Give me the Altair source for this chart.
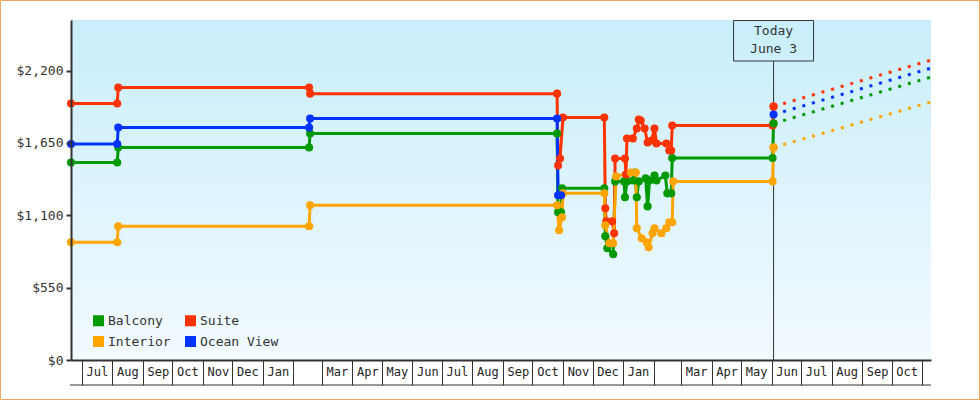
import json
import altair as alt
import pandas as pd

FONT = "DejaVu Sans Mono"

# legend order (column-major in a 2x2 grid): Balcony, Interior | Suite, Ocean View
series_names = ["Balcony", "Interior", "Suite", "Ocean View"]
series_colors = ["#009900", "#ffa500", "#ff3300", "#0033ff"]

balcony_dates = ["2015-06-20", "2015-08-06", "2015-08-07", "2016-02-17", "2016-02-18", "2016-10-26",
                 "2016-10-27", "2016-10-30", "2016-10-31", "2016-12-13", "2016-12-14", "2016-12-16",
                 "2016-12-22", "2016-12-24", "2017-01-02", "2017-01-03", "2017-01-05", "2017-01-11",
                 "2017-01-13", "2017-01-15", "2017-01-17", "2017-01-24", "2017-01-26", "2017-01-28",
                 "2017-02-02", "2017-02-04", "2017-02-13", "2017-02-15", "2017-02-19", "2017-02-20",
                 "2017-06-02", "2017-06-03"]
balcony_prices = [1502, 1502, 1616, 1616, 1722, 1722,
                  1123, 1123, 1305, 1305, 941, 850,
                  804, 1358, 1358, 1237, 1358, 1365,
                  1426, 1237, 1358, 1381, 1168, 1365,
                  1403, 1365, 1403, 1267, 1267, 1536,
                  1536, 1798]

suite_dates = ["2015-06-20", "2015-08-06", "2015-08-07", "2016-02-17", "2016-02-18", "2016-10-26",
               "2016-10-27", "2016-10-29", "2016-11-01", "2016-12-13", "2016-12-14", "2016-12-15",
               "2016-12-21", "2016-12-23", "2016-12-24", "2017-01-03", "2017-01-04", "2017-01-05",
               "2017-01-11", "2017-01-15", "2017-01-17", "2017-01-19", "2017-01-23", "2017-01-26",
               "2017-01-30", "2017-02-02", "2017-02-04", "2017-02-14", "2017-02-17", "2017-02-19",
               "2017-02-20", "2017-06-02", "2017-06-03"]
suite_prices = [1950, 1950, 2071, 2071, 2025, 2025,
                1479, 1532, 1843, 1843, 1153, 1054,
                1054, 963, 1532, 1532, 1411, 1684,
                1684, 1760, 1828, 1821, 1760, 1654,
                1669, 1760, 1646, 1646, 1593, 1593,
                1783, 1783, 1927]

interior_dates = ["2015-06-20", "2015-08-06", "2015-08-07", "2016-02-17", "2016-02-18", "2016-10-26",
                  "2016-10-28", "2016-10-31", "2016-11-01", "2016-12-13", "2016-12-14", "2016-12-18",
                  "2016-12-22", "2016-12-25", "2017-01-09", "2017-01-14", "2017-01-15", "2017-01-20",
                  "2017-01-25", "2017-01-27", "2017-01-31", "2017-02-02", "2017-02-09", "2017-02-14",
                  "2017-02-17", "2017-02-20", "2017-02-21", "2017-06-02", "2017-06-03"]
interior_prices = [895, 895, 1017, 1017, 1176, 1176,
                   986, 1085, 1267, 1267, 1024, 888,
                   888, 1396, 1426, 1426, 1001, 926,
                   895, 857, 963, 1001, 963, 1001,
                   1047, 1047, 1358, 1358, 1616]

ocean_dates = ["2015-06-20", "2015-08-06", "2015-08-07", "2016-02-17", "2016-02-18", "2016-10-26",
               "2016-10-27", "2016-10-30"]
ocean_prices = [1642, 1642, 1768, 1768, 1836, 1836, 1252, 1252]

today_date = "2017-06-03"
today_label = ["Today", "June 3"]
today_prices = [1798, 1616, 1927, 1866]          # Balcony, Interior, Suite, Ocean View
projection_end_date = "2017-11-10"
projection_end_prices = [2151, 1961, 2280, 2219]  # Balcony, Interior, Suite, Ocean View

month_starts = ["2015-07-01", "2015-08-01", "2015-09-01", "2015-10-01", "2015-11-01", "2015-12-01",
                "2016-01-01", "2016-02-01", "2016-03-01", "2016-04-01", "2016-05-01", "2016-06-01",
                "2016-07-01", "2016-08-01", "2016-09-01", "2016-10-01", "2016-11-01", "2016-12-01",
                "2017-01-01", "2017-02-01", "2017-03-01", "2017-04-01", "2017-05-01", "2017-06-01",
                "2017-07-01", "2017-08-01", "2017-09-01", "2017-10-01", "2017-11-01"]
month_labels = ["Jul", "Aug", "Sep", "Oct", "Nov", "Dec",
                "Jan", "", "Mar", "Apr", "May", "Jun",
                "Jul", "Aug", "Sep", "Oct", "Nov", "Dec",
                "Jan", "", "Mar", "Apr", "May", "Jun",
                "Jul", "Aug", "Sep", "Oct", ""]
y_ticks = [0, 550, 1100, 1650, 2200]
x_domain = ["2015-06-20", "2017-11-10"]
y_domain = [0, 2585]

W, H = 860, 340


def ms(d):
    return int(pd.Timestamp(d).value // 10**6)


hist_rows = []
for name, dates, prices in [("Balcony", balcony_dates, balcony_prices),
                            ("Suite", suite_dates, suite_prices),
                            ("Interior", interior_dates, interior_prices),
                            ("Ocean View", ocean_dates, ocean_prices)]:
    for i, (d, p) in enumerate(zip(dates, prices)):
        hist_rows.append({"series": name, "date": d, "price": p, "idx": i})
hist = pd.DataFrame(hist_rows)

proj_rows = []
for name, p0, p1 in zip(series_names, today_prices, projection_end_prices):
    proj_rows.append({"series": name, "date": today_date, "price": p0, "idx": 0})
    proj_rows.append({"series": name, "date": projection_end_date, "price": p1, "idx": 1})
proj = pd.DataFrame(proj_rows)
today_pts = proj[proj["idx"] == 0]
today_df = pd.DataFrame({"date": [today_date]})
one = pd.DataFrame({"k": [0]})

month_ms = [ms(d) for d in month_starts]
label_expr = f"{json.dumps(month_labels)}[indexof({json.dumps(month_ms)}, toNumber(datum.value))]"

x_axis = alt.Axis(values=month_ms, tickSize=25, tickWidth=1, tickColor="#333333",
                  domainColor="#333333", domainWidth=2, labelExpr=label_expr,
                  labelOffset=15, labelPadding=-19, labelFont=FONT, labelFontSize=12,
                  labelColor="#222222", labelOverlap=False, labelFlush=False,
                  grid=False, title=None, zindex=1)
y_axis = alt.Axis(values=y_ticks, format="$,.0f", tickSize=5, tickWidth=2,
                  tickColor="#333333", domainColor="#333333", domainWidth=2,
                  labelFont=FONT, labelFontSize=13, labelColor="#333333",
                  labelPadding=3, grid=False, title=None, zindex=1)

X = alt.X("date:T", scale=alt.Scale(domain=[ms(d) for d in x_domain]), axis=x_axis)
Y = alt.Y("price:Q", scale=alt.Scale(domain=y_domain, nice=False), axis=y_axis)
legend = alt.Legend(title=None, orient="none", legendX=21, legendY=294, columns=2,
                    symbolType="square", symbolSize=121, symbolStrokeWidth=0, symbolOpacity=1,
                    labelFont=FONT, labelFontSize=13, labelColor="#333333", labelOffset=3,
                    columnPadding=13, rowPadding=7, padding=0, zindex=2)
stroke_enc = alt.Stroke("series:N", scale=alt.Scale(domain=series_names, range=series_colors), legend=legend)
fill_enc = alt.Fill("series:N", scale=alt.Scale(domain=series_names, range=series_colors), legend=legend)

bg = alt.Chart(one).mark_rect(
    color=alt.LinearGradient(gradient="linear",
                             stops=[alt.GradientStop(color="#c9eefb", offset=0),
                                    alt.GradientStop(color="#f2fafe", offset=1)],
                             x1=0, x2=0, y1=0, y2=1)
).encode(x=alt.value(0), x2=alt.value(W), y=alt.value(0), y2=alt.value(H))

today_rule = alt.Chart(today_df).mark_rule(color="#333333", strokeWidth=1).encode(
    x=X, y=alt.value(41), y2=alt.value(H))

lines = alt.Chart(hist).mark_line(strokeWidth=3).encode(
    x=X, y=Y, stroke=stroke_enc, order=alt.Order("idx:Q"), detail="series:N")

proj_lines = alt.Chart(proj).mark_line(strokeWidth=3, strokeDash=[3, 7]).encode(
    x=X, y=Y, stroke=stroke_enc, order=alt.Order("idx:Q"), detail="series:N")

points = alt.Chart(hist).mark_point(filled=True, size=65, shape="circle", opacity=1, strokeWidth=0).encode(
    x=X, y=Y, fill=fill_enc)

tpoints = alt.Chart(today_pts).mark_point(filled=True, size=65, shape="circle", opacity=1, strokeWidth=0).encode(
    x=X, y=Y, fill=fill_enc)

box = alt.Chart(today_df).mark_rect(fill="transparent", stroke="#333333", strokeWidth=1,
                                    xOffset=-40, x2Offset=40).encode(
    x=X, x2=alt.X2("date"), y=alt.value(0.5), y2=alt.value(41))

box_text = alt.Chart(today_df).mark_text(font=FONT, fontSize=13, color="#333333", baseline="top",
                                         align="center", lineHeight=18).encode(
    x=X, y=alt.value(5), text=alt.value(today_label))

bottom_rule = alt.Chart(one).mark_rule(color="#333333", strokeWidth=1).encode(
    x=alt.value(-1), x2=alt.value(W), y=alt.value(H + 25))

border = alt.Chart(one).mark_rect(fill="transparent", stroke="#e9a862", strokeWidth=1).encode(
    x=alt.value(-70.5), x2=alt.value(W + 48.5), y=alt.value(-19.5), y2=alt.value(H + 39.5))

chart = alt.layer(
    bg, today_rule, lines, proj_lines, points, tpoints, box, box_text, bottom_rule, border
).properties(
    width=W, height=H,
    padding={"left": 71, "top": 20, "right": 49, "bottom": 40},
    autosize=alt.AutoSizeParams(type="none"),
    background="white",
).configure_view(stroke="transparent")

chart.save("out.html", embed_options={"renderer": "svg", "actions": False})
